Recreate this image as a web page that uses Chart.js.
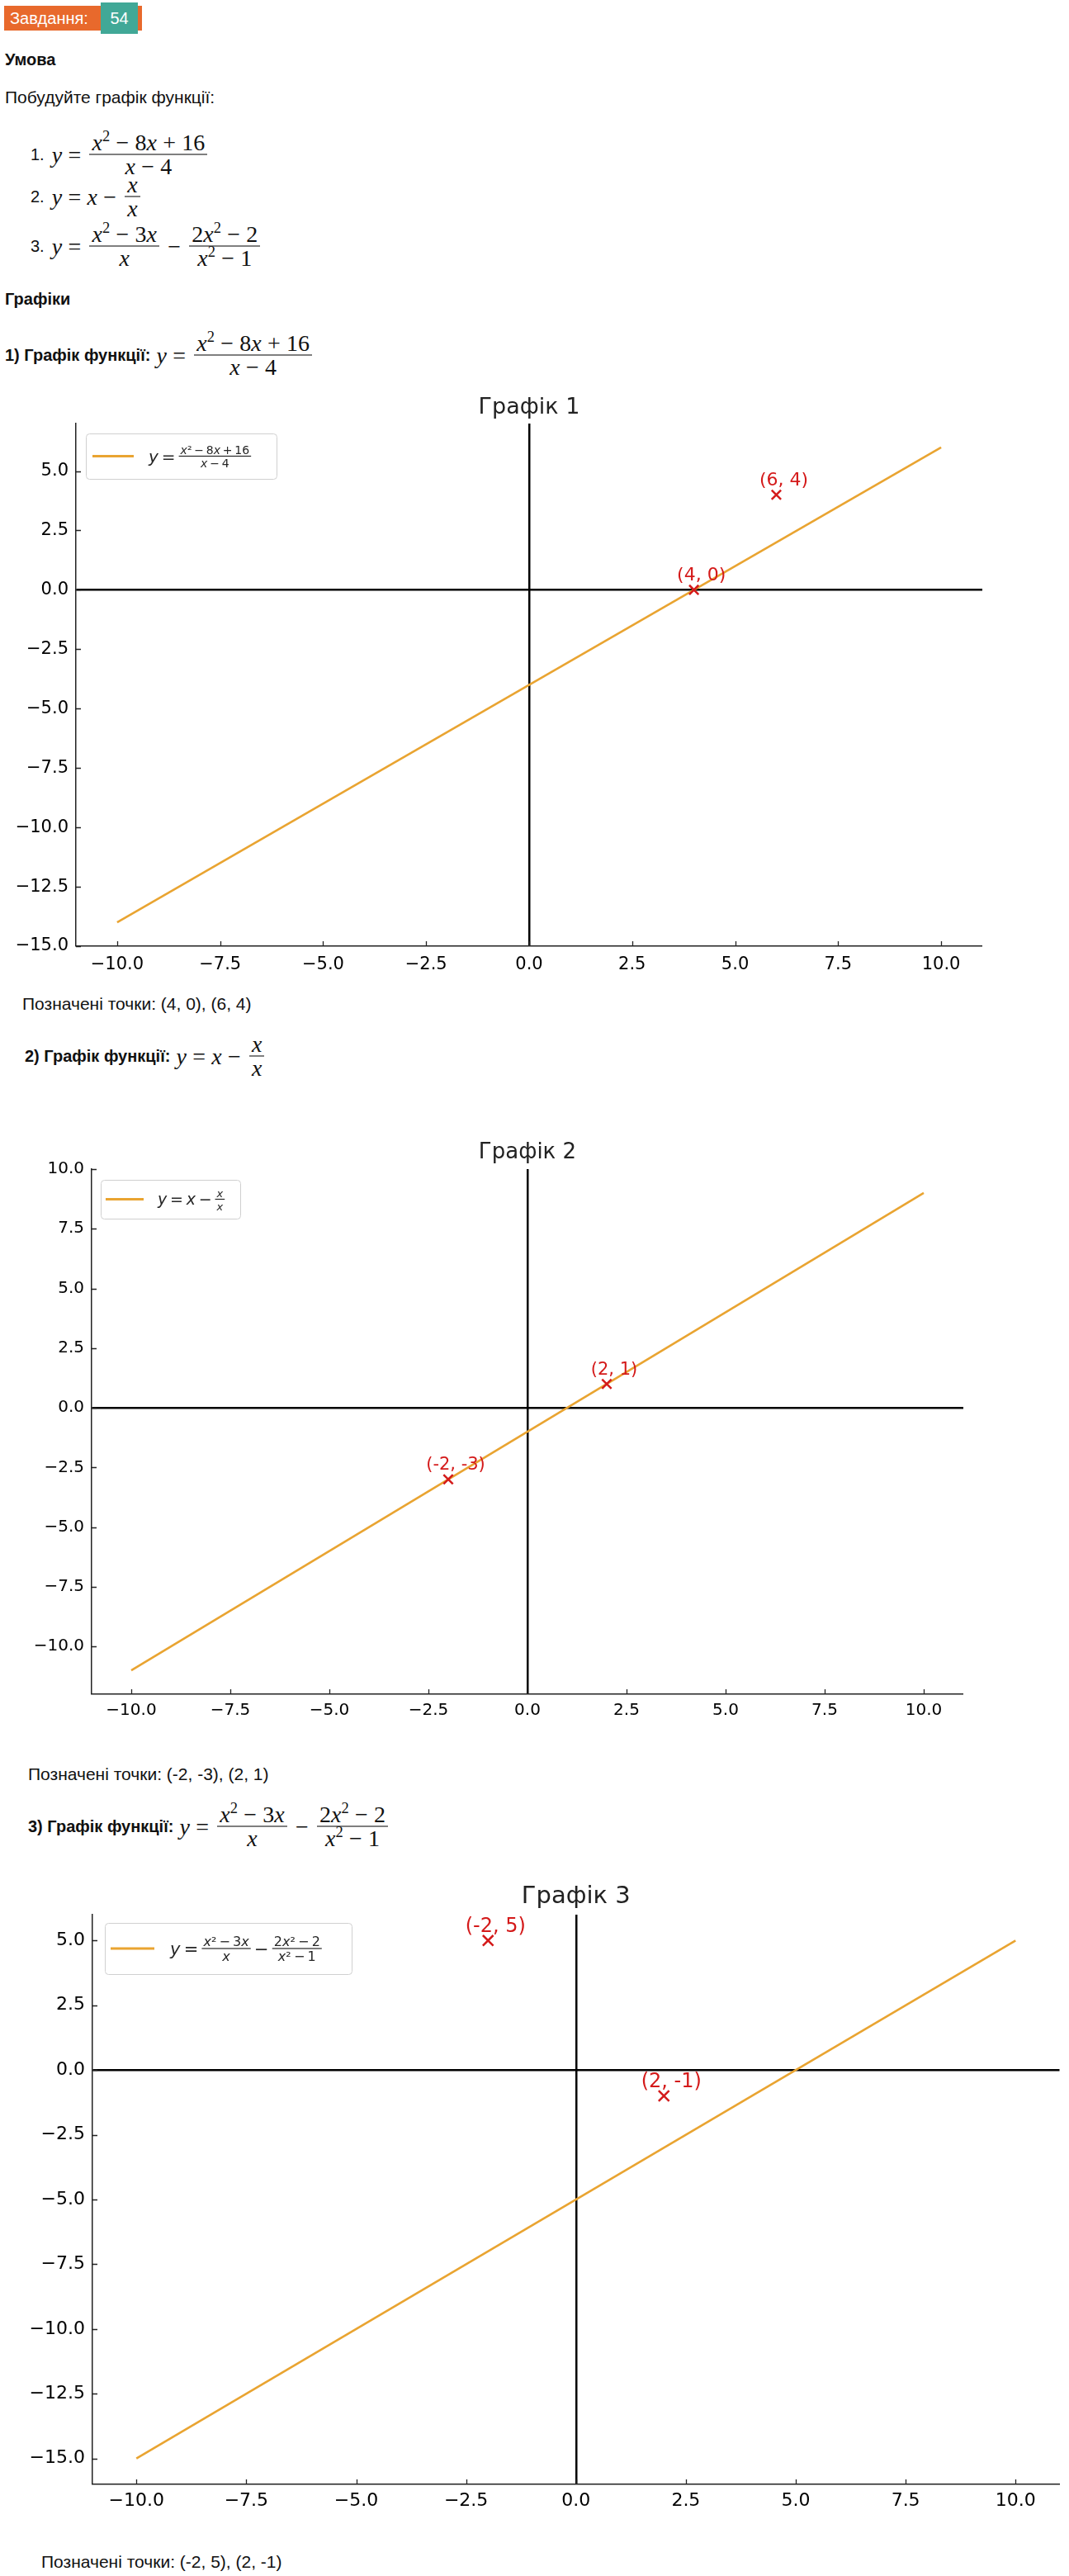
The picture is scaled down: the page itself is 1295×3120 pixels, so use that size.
<!DOCTYPE html>
<html lang="uk">
<head>
<meta charset="utf-8">
<title>Завдання 54</title>
<script src="https://cdn.jsdelivr.net/npm/chart.js"></script>
<style>
  html, body { margin: 0; padding: 0; background: #fff; }
  body { width: 1295px; height: 3120px; position: relative; overflow: hidden;
         font-family: 'Liberation Sans', Arial, sans-serif; font-size: 21px; color: #111; }
  .t { position: absolute; line-height: 24px; white-space: nowrap; }
  .b { font-weight: bold; font-size: 20px; }
  .badge { position: absolute; left: 5px; top: 7px; width: 167px; height: 30px; background: #e8692c; font-size: 20px; }
  .badge .l { position: absolute; left: 7px; top: 3px; color: #fff; line-height: 24px; }
  .badge .n { position: absolute; left: 117px; top: -4px; width: 45px; height: 38px; background: #41a897;
              color: #fff; text-align: center; line-height: 38px; }
  .row { position: absolute; display: flex; align-items: center; transform: translateY(-50%); white-space: nowrap; }
  .nl { margin-right: 9px; font-size: 20px; }
  .m { font-family: 'Liberation Serif', 'DejaVu Serif', serif; font-size: 28px; }
  .m i { font-style: italic; }
  .op { padding: 0 0.26em; }
  .fr { display: inline-flex; flex-direction: column; align-items: center; margin: 0 3px; }
  .fr > span { line-height: 28px; padding: 0 3px; }
  .fr > span:first-child { border-bottom: 1.3px solid #000; }
  sup { font-size: 0.66em; line-height: 0; vertical-align: 0.55em; }
  .chart { position: absolute; left: 0; width: 1295px; }
</style>
</head>
<body>

<div class="badge"><span class="l">Завдання:</span><span class="n">54</span></div>
<div class="t b" style="left:6px;top:60px">Умова</div>
<div class="t" style="left:6px;top:106px">Побудуйте графік функції:</div>

<div class="row" style="left:37px;top:187px"><span class="nl">1.</span><span class="m"><i>y</i><span class="op">=</span></span><span class="fr m"><span><i>x</i><sup>2</sup><span class="op">−</span>8<i>x</i><span class="op">+</span>16</span><span><i>x</i><span class="op">−</span>4</span></span></div>
<div class="row" style="left:37px;top:238px"><span class="nl">2.</span><span class="m"><i>y</i><span class="op">=</span><i>x</i><span class="op">−</span></span><span class="fr m"><span><i>x</i></span><span><i>x</i></span></span></div>
<div class="row" style="left:37px;top:298px"><span class="nl">3.</span><span class="m"><i>y</i><span class="op">=</span></span><span class="fr m"><span><i>x</i><sup>2</sup><span class="op">−</span>3<i>x</i></span><span><i>x</i></span></span><span class="m op">−</span><span class="fr m"><span>2<i>x</i><sup>2</sup><span class="op">−</span>2</span><span><i>x</i><sup>2</sup><span class="op">−</span>1</span></span></div>

<div class="t b" style="left:6px;top:350px">Графіки</div>

<div class="row" style="left:6px;top:430px"><span class="b">1) Графік функції:</span><span class="m">&nbsp;<i>y</i><span class="op">=</span></span><span class="fr m"><span><i>x</i><sup>2</sup><span class="op">−</span>8<i>x</i><span class="op">+</span>16</span><span><i>x</i><span class="op">−</span>4</span></span></div>
<div class="chart" style="top:470px;height:720px"><canvas id="c1"></canvas></div>
<div class="t" style="left:27px;top:1204px">Позначені точки: (4, 0), (6, 4)</div>

<div class="row" style="left:30px;top:1279px"><span class="b">2) Графік функції:</span><span class="m">&nbsp;<i>y</i><span class="op">=</span><i>x</i><span class="op">−</span></span><span class="fr m"><span><i>x</i></span><span><i>x</i></span></span></div>
<div class="chart" style="top:1370px;height:724px"><canvas id="c2"></canvas></div>
<div class="t" style="left:34px;top:2137px">Позначені точки: (-2, -3), (2, 1)</div>

<div class="row" style="left:34px;top:2212px"><span class="b">3) Графік функції:</span><span class="m">&nbsp;<i>y</i><span class="op">=</span></span><span class="fr m"><span><i>x</i><sup>2</sup><span class="op">−</span>3<i>x</i></span><span><i>x</i></span></span><span class="m op">−</span><span class="fr m"><span>2<i>x</i><sup>2</sup><span class="op">−</span>2</span><span><i>x</i><sup>2</sup><span class="op">−</span>1</span></span></div>
<div class="chart" style="top:2265px;height:790px"><canvas id="c3"></canvas></div>
<div class="t" style="left:50px;top:3091px">Позначені точки: (-2, 5), (2, -1)</div>

<script>
// shared x ticks
const xTicks = [-10, -7.5, -5, -2.5, 0, 2.5, 5, 7.5, 10];

// Графік 1: y = (x^2 - 8x + 16) / (x - 4)
const line1X = [-10, 10];
const line1Y = [-14, 6];
const marks1X = [4, 6];
const marks1Y = [0, 4];
const marks1Labels = ['(4, 0)', '(6, 4)'];
const y1Ticks = [-15, -12.5, -10, -7.5, -5, -2.5, 0, 2.5, 5];

// Графік 2: y = x - x/x
const line2X = [-10, 10];
const line2Y = [-11, 9];
const marks2X = [-2, 2];
const marks2Y = [-3, 1];
const marks2Labels = ['(-2, -3)', '(2, 1)'];
const y2Ticks = [-10, -7.5, -5, -2.5, 0, 2.5, 5, 7.5, 10];

// Графік 3: y = (x^2 - 3x)/x - (2x^2 - 2)/(x^2 - 1)
const line3X = [-10, 10];
const line3Y = [-15, 5];
const marks3X = [-2, 2];
const marks3Y = [5, -1];
const marks3Labels = ['(-2, 5)', '(2, -1)'];
const y3Ticks = [-15, -12.5, -10, -7.5, -5, -2.5, 0, 2.5, 5];

const LINE_COLOR = '#e9a431';
const MARK_COLOR = '#d41a1a';
const FONT = 'DejaVu Sans';

function fmt(v) {
    return (v < 0 ? '\u2212' : '') + Math.abs(v).toFixed(1);
}

function toPoints(xs, ys) {
    return xs.map((x, i) => ({ x: x, y: ys[i] }));
}

// mathtext-like string: letters italic, the rest upright, thin spaces
function mathRun(ctx, str, x, y, size, draw) {
    let cx = x;
    for (const ch of str) {
        if (ch === ' ') { cx += size * 0.2; continue; }
        ctx.font = (/[a-z]/.test(ch) ? 'italic ' : '') + size + 'px "' + FONT + '"';
        if (draw) ctx.fillText(ch, cx, y);
        cx += ctx.measureText(ch).width;
    }
    return cx - x;
}

function drawLegend(ctx, area, lg) {
    const bx = area.left + lg.dx, by = area.top + lg.dy;
    const mid = by + lg.h / 2;
    ctx.save();
    ctx.beginPath();
    ctx.roundRect(bx + 0.5, by + 0.5, lg.w, lg.h, 4);
    ctx.fillStyle = 'rgba(255,255,255,0.85)';
    ctx.fill();
    ctx.strokeStyle = '#d0d0d0';
    ctx.lineWidth = 1;
    ctx.stroke();

    ctx.beginPath();
    ctx.moveTo(bx + lg.sampleDx, mid);
    ctx.lineTo(bx + lg.sampleDx + lg.sampleLen, mid);
    ctx.strokeStyle = LINE_COLOR;
    ctx.lineWidth = 3;
    ctx.stroke();

    ctx.fillStyle = '#262626';
    ctx.textAlign = 'left';
    ctx.textBaseline = 'alphabetic';
    let cx = bx + lg.textDx;
    lg.parts.forEach(p => {
        if (p.t) {
            cx += mathRun(ctx, p.t, cx, mid + lg.main * 0.36, lg.main, true);
        } else {
            const nw = mathRun(ctx, p.num, 0, 0, lg.frac, false);
            const dw = mathRun(ctx, p.den, 0, 0, lg.frac, false);
            const w = Math.max(nw, dw) + 4;
            mathRun(ctx, p.num, cx + (w - nw) / 2, mid - 3, lg.frac, true);
            mathRun(ctx, p.den, cx + (w - dw) / 2, mid + lg.frac * 0.78 + 3, lg.frac, true);
            ctx.fillRect(cx, mid - 0.6, w, 1.2);
            cx += w;
        }
    });
    ctx.restore();
}

// title, inward ticks, point labels and the math legend
const decor = {
    id: 'decor',
    afterDraw(chart, args, o) {
        const ctx = chart.ctx, a = chart.chartArea;
        const xs = chart.scales.x, ys = chart.scales.y;
        ctx.save();

        ctx.strokeStyle = '#222';
        ctx.lineWidth = 1.3;
        ctx.beginPath();
        xs.ticks.forEach(t => {
            const px = Math.round(xs.getPixelForValue(t.value)) + 0.5;
            ctx.moveTo(px, a.bottom);
            ctx.lineTo(px, a.bottom - o.tick);
        });
        ys.ticks.forEach(t => {
            const py = Math.round(ys.getPixelForValue(t.value)) + 0.5;
            ctx.moveTo(a.left, py);
            ctx.lineTo(a.left + o.tick, py);
        });
        ctx.stroke();

        ctx.fillStyle = '#222';
        ctx.font = o.titleSize + 'px "' + FONT + '"';
        ctx.textAlign = 'center';
        ctx.textBaseline = 'middle';
        ctx.fillText(o.title, (a.left + a.right) / 2, a.top - o.titleGap);

        ctx.fillStyle = MARK_COLOR;
        ctx.font = o.labelSize + 'px "' + FONT + '"';
        chart.getDatasetMeta(0).data.forEach((pt, i) => {
            ctx.fillText(o.labels[i], pt.x + 9, pt.y - 17);
        });
        ctx.restore();

        drawLegend(ctx, a, o.legend);
    }
};

function axis(ticks, fontSize, pad, fit) {
    return {
        type: 'linear',
        min: -11,
        max: 11,
        afterBuildTicks: s => { s.ticks = ticks.map(v => ({ value: v })); },
        afterFit: fit,
        grid: {
            drawTicks: false,
            color: c => (c.tick && c.tick.value === 0) ? '#000' : 'rgba(0,0,0,0)',
            lineWidth: c => (c.tick && c.tick.value === 0) ? 2.5 : 0
        },
        border: { display: true, color: '#222', width: 1.5 },
        ticks: {
            padding: pad,
            color: '#000',
            autoSkip: false,
            maxRotation: 0,
            font: { family: FONT, size: fontSize },
            callback: v => fmt(v)
        }
    };
}

function makePlot(id, d, L) {
    const yAxis = axis(d.yTicks, L.tickSize, 9, s => { s.width = L.left; });
    yAxis.min = d.yMin;
    yAxis.max = d.yMax;
    return new Chart(document.getElementById(id), {
        type: 'scatter',
        data: {
            datasets: [
                {
                    data: toPoints(d.marksX, d.marksY),
                    pointStyle: 'crossRot',
                    pointRadius: L.mark,
                    pointBorderWidth: 2.5,
                    pointBorderColor: MARK_COLOR,
                    pointBackgroundColor: MARK_COLOR
                },
                {
                    data: toPoints(d.lineX, d.lineY),
                    showLine: true,
                    pointRadius: 0,
                    borderColor: LINE_COLOR,
                    borderWidth: 2.6,
                    tension: 0
                }
            ]
        },
        options: {
            responsive: true,
            maintainAspectRatio: false,
            animation: false,
            events: [],
            layout: { padding: { top: L.top, right: L.right, bottom: 0, left: 0 } },
            plugins: {
                legend: { display: false },
                tooltip: { enabled: false },
                title: { display: false },
                decor: {
                    title: d.title,
                    titleSize: L.titleSize,
                    titleGap: L.titleGap,
                    labelSize: L.labelSize,
                    labels: d.labels,
                    tick: 6,
                    legend: d.legend
                }
            },
            scales: {
                x: axis(xTicks, L.tickSize, L.xPad, s => { s.height = L.bottom; }),
                y: yAxis
            }
        },
        plugins: [decor]
    });
}

makePlot('c1', {
    title: 'Графік 1', lineX: line1X, lineY: line1Y, marksX: marks1X, marksY: marks1Y,
    labels: marks1Labels, yTicks: y1Ticks, yMin: -15, yMax: 7,
    legend: { dx: 12, dy: 12, w: 231, h: 55, sampleDx: 8, sampleLen: 50, textDx: 76, main: 20, frac: 14,
              parts: [{ t: 'y = ' }, { num: 'x² − 8x + 16', den: 'x − 4' }] }
}, { top: 43, right: 105, left: 92, bottom: 44, xPad: 10, tickSize: 21, titleSize: 27, titleGap: 19, labelSize: 22, mark: 8 });

makePlot('c2', {
    title: 'Графік 2', lineX: line2X, lineY: line2Y, marksX: marks2X, marksY: marks2Y,
    labels: marks2Labels, yTicks: y2Ticks, yMin: -12, yMax: 10,
    legend: { dx: 11, dy: 13, w: 169, h: 47, sampleDx: 6, sampleLen: 46, textDx: 69, main: 19, frac: 13,
              parts: [{ t: 'y = x − ' }, { num: 'x', den: 'x' }] }
}, { top: 46, right: 128, left: 111, bottom: 42, xPad: 8, tickSize: 20, titleSize: 26, titleGap: 20, labelSize: 21, mark: 8 });

makePlot('c3', {
    title: 'Графік 3', lineX: line3X, lineY: line3Y, marksX: marks3X, marksY: marks3Y,
    labels: marks3Labels, yTicks: y3Ticks, yMin: -16, yMax: 6,
    legend: { dx: 15, dy: 10, w: 299, h: 62, sampleDx: 7, sampleLen: 53, textDx: 79, main: 21, frac: 16,
              parts: [{ t: 'y = ' }, { num: 'x² − 3x', den: 'x' }, { t: ' − ' }, { num: '2x² − 2', den: 'x² − 1' }] }
}, { top: 54, right: 9, left: 112, bottom: 46, xPad: 7, tickSize: 22, titleSize: 29, titleGap: 22, labelSize: 24, mark: 9 });
</script>
</body>
</html>
